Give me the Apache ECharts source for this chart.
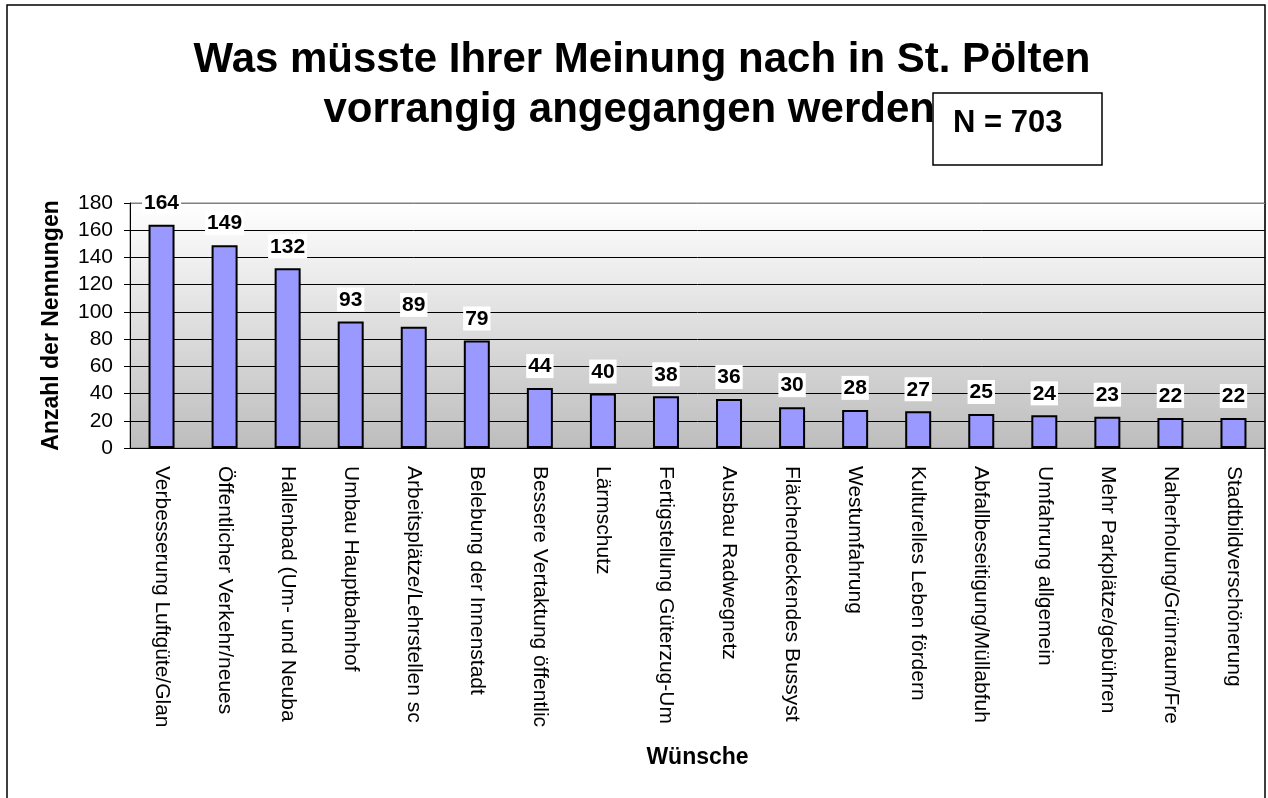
<!DOCTYPE html>
<html>
<head>
<meta charset="utf-8">
<script src="https://cdn.jsdelivr.net/npm/echarts@6/dist/echarts.min.js"></script>
<style>
  html, body { margin: 0; padding: 0; background: #fff; }
  #chart { width: 1268px; height: 798px; }
</style>
</head>
<body>
<div id="chart"></div>
<script>
// Wünsche (Kategorien) und Anzahl der Nennungen
var categories = [
    "Verbesserung Luftgüte/Glanzstoff",
    "Öffentlicher Verkehr/neues Verkehrskonzept",
    "Hallenbad (Um- und Neubau)",
    "Umbau Hauptbahnhof",
    "Arbeitsplätze/Lehrstellen schaffen",
    "Belebung der Innenstadt",
    "Bessere Vertaktung öffentlicher Verkehr",
    "Lärmschutz",
    "Fertigstellung Güterzug-Umfahrung",
    "Ausbau Radwegnetz",
    "Flächendeckendes Bussystem",
    "Westumfahrung",
    "Kulturelles Leben fördern",
    "Abfallbeseitigung/Müllabfuhr",
    "Umfahrung allgemein",
    "Mehr Parkplätze/gebührenfrei",
    "Naherholung/Grünraum/Freizeit",
    "Stadtbildverschönerung"
];
var nennungen = [164, 149, 132, 93, 89, 79, 44, 40, 38, 36, 30, 28, 27, 25, 24, 23, 22, 22];

var titleText = "Was müsste Ihrer Meinung nach in St. Pölten\nvorrangig angegangen werden?";
var nText = "N = 703";

var FONT = '"Liberation Sans", Arial, sans-serif';

function displayChart(){
    //1实例化对象
    var myChart = echarts.init(document.getElementById('chart'));
    //2指定配置项和数据
    var option = {
        animation: false,
        title: {
            text: titleText,
            left: 637,
            top: 30,
            textAlign: 'center',
            textStyle: {
                fontFamily: FONT,
                fontSize: 42,
                fontWeight: 'bold',
                color: '#000',
                lineHeight: 50
            }
        },
        grid: {
            left: 130,
            right: 3,
            top: 203,
            bottom: 350,
            show: true,
            borderColor: '#808080',
            borderWidth: 1,
            backgroundColor: new echarts.graphic.LinearGradient(0, 0, 0, 1, [
                { offset: 0, color: '#ffffff' },
                { offset: 1, color: '#bdbdbd' }
            ])
        },
        xAxis: {
            type: 'category',
            data: categories,
            name: 'Wünsche',
            nameLocation: 'middle',
            nameGap: 298,
            nameTextStyle: {
                fontFamily: FONT,
                fontSize: 23,
                fontWeight: 'bold',
                color: '#000'
            },
            axisLine: { lineStyle: { color: '#000', width: 1 } },
            axisTick: { length: 5, lineStyle: { color: '#000' } },
            axisLabel: {
                rotate: -90,
                margin: 18,
                interval: 0,
                fontFamily: FONT,
                fontSize: 21,
                color: '#000',
                width: 264,
                overflow: 'truncate',
                ellipsis: ''
            }
        },
        yAxis: {
            type: 'value',
            min: 0,
            max: 180,
            interval: 20,
            name: 'Anzahl der Nennungen',
            nameLocation: 'middle',
            nameGap: 67,
            nameTextStyle: {
                fontFamily: FONT,
                fontSize: 23,
                fontWeight: 'bold',
                color: '#000'
            },
            axisLine: { show: true, lineStyle: { color: '#000', width: 1 } },
            axisTick: { show: true, length: 6, lineStyle: { color: '#000' } },
            axisLabel: {
                margin: 17,
                fontFamily: FONT,
                fontSize: 21,
                color: '#000'
            },
            splitLine: {
                show: true,
                lineStyle: {
                    color: ['#000', '#000', '#000', '#000', '#000', '#000', '#000', '#000', '#000', '#808080'],
                    width: 1
                }
            }
        },
        series: [
            {
                type: 'bar',
                name: 'Anzahl',
                data: nennungen,
                barWidth: 26,
                itemStyle: {
                    color: '#9999FF',
                    borderColor: '#000',
                    borderWidth: 2
                },
                label: {
                    show: true,
                    position: 'top',
                    distance: 10,
                    fontFamily: FONT,
                    fontSize: 21,
                    fontWeight: 'bold',
                    color: '#000',
                    backgroundColor: '#fff',
                    padding: [2, 2, 1, 2]
                }
            }
        ],
        graphic: [
            {
                type: 'rect',
                z: 0,
                silent: true,
                shape: { x: 7, y: 5, width: 1258, height: 900 },
                style: { fill: 'none', stroke: '#000', lineWidth: 1.5 }
            },
            {
                type: 'rect',
                z: 100,
                shape: { x: 933, y: 93, width: 169, height: 72 },
                style: { fill: '#fff', stroke: '#000', lineWidth: 1.5 }
            },
            {
                type: 'text',
                z: 101,
                x: 953,
                y: 123,
                style: {
                    text: nText,
                    fill: '#000',
                    font: 'bold 31px ' + FONT,
                    verticalAlign: 'middle'
                }
            }
        ]
    };

    myChart.setOption(option);
    window.addEventListener("resize", function () {
        myChart.resize();
    });
}
displayChart();
</script>
</body>
</html>
